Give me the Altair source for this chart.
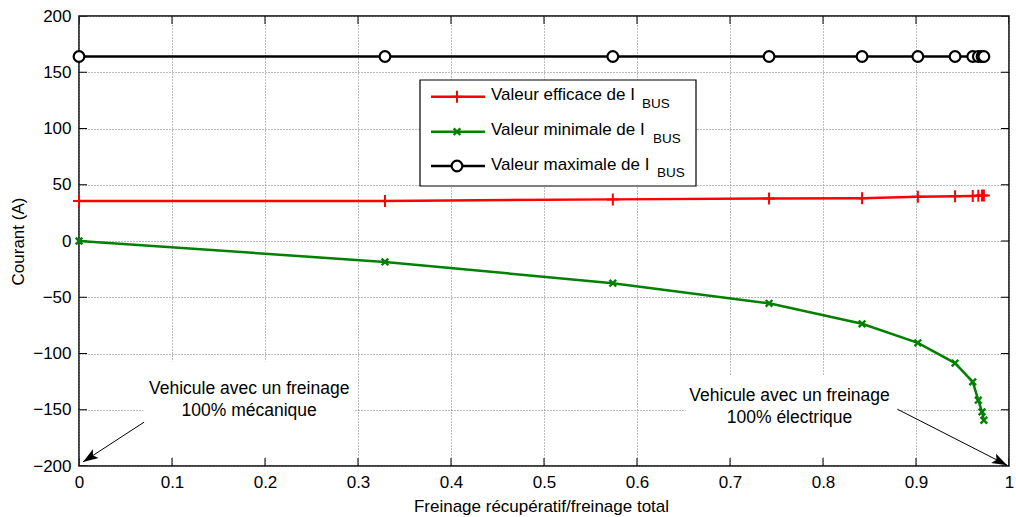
import math
import altair as alt
import pandas as pd

FONT = "Liberation Sans"

# ---------------- data ----------------
ratio = [0.0, 0.329, 0.574, 0.742, 0.842, 0.902, 0.942, 0.961, 0.967, 0.971, 0.973]
i_eff = [35.6, 35.6, 37.0, 37.8, 38.1, 39.3, 39.7, 40.1, 40.3, 40.4, 40.5]
i_min = [0.0, -18.6, -37.5, -55.4, -73.6, -90.5, -108.5, -125.2, -141.5, -151.9, -159.3]
i_max = [164.0, 164.0, 164.0, 164.0, 164.0, 164.0, 164.0, 164.0, 164.0, 164.0, 164.0]

x_ticks = [0, 0.1, 0.2, 0.3, 0.4, 0.5, 0.6, 0.7, 0.8, 0.9, 1]
y_ticks = [-200, -150, -100, -50, 0, 50, 100, 150, 200]

x_title = "Freinage récupératif/freinage total"
y_title = "Courant (A)"

legend_labels = ["Valeur efficace de I", "Valeur minimale de I", "Valeur maximale de I"]
legend_sub = "BUS"

ann_left_lines = ["Vehicule avec un freinage", "100% mécanique"]
ann_left_x = [0.183, 0.183]
ann_left_y = [-131.5, -151.0]
ann_right_lines = ["Vehicule avec un freinage", "100% électrique"]
ann_right_x = [0.764, 0.764]
ann_right_y = [-137.5, -157.5]

# white boxes behind the annotations (data coords)
box_x = [0.069, 0.653]
box_x2 = [0.296, 0.880]
box_y = [-107.0, -119.0]
box_y2 = [-192.0, -192.0]

# arrows: start -> tip (data coords)
arrow_x = [0.070, 0.880]
arrow_y = [-161.0, -149.5]
arrow_x2 = [0.0043, 0.998]
arrow_y2 = [-196.4, -199.3]

# ---------------- layout ----------------
W, H = 930, 450
PAD = {"left": 79, "top": 16, "right": 7, "bottom": 51}

xs = alt.Scale(domain=[0, 1], nice=False, zero=False)
ys = alt.Scale(domain=[-200, 200], nice=False, zero=False)

common_axis = dict(
    grid=True, ticks=False, tickSize=0, domain=False,
    labelFont=FONT, labelFontSize=17, labelColor="black",
    titleFont=FONT, titleFontSize=17, titleFontWeight="normal", titleColor="black",
    gridColor="#7a7a7a", gridDash=[1, 2], gridWidth=1, labelFlush=False,
    labelOverlap=False,
)
x_axis = alt.Axis(values=x_ticks, format="~g", title=x_title, labelPadding=8,
                  titleX=462, titleY=40, titleAlign="center", titleBaseline="middle",
                  **common_axis)
y_axis = alt.Axis(values=y_ticks, format="d", title=y_title, labelPadding=8,
                  titleX=-61, titleY=225, titleAngle=270, titleAlign="center",
                  titleBaseline="middle", **common_axis)


def X(f):
    return alt.X(f, type="quantitative", scale=xs, axis=x_axis)


def Y(f):
    return alt.Y(f, type="quantitative", scale=ys, axis=y_axis)


df = pd.DataFrame({"ratio": ratio, "eff": i_eff, "mn": i_min, "mx": i_max})
base = alt.Chart(df)

RED, GREEN, BLACK = "#ff0000", "#008000", "#000000"
PLUS = "M-1,0L1,0M0,-1L0,1"
CROSS = "M-1,-1L1,1M-1,1L1,-1"
ARROW = "M0,0L-0.55,1.6L0,1.25L0.55,1.6Z"

layers = []

# annotation white boxes
boxes = pd.DataFrame({"x": box_x, "x2": box_x2, "y": box_y, "y2": box_y2})
layers.append(alt.Chart(boxes).mark_rect(fill="white", stroke=None).encode(
    x=X("x"), x2="x2", y=Y("y"), y2="y2"))

# inner ticks (MATLAB style), on the four sides
xt = pd.DataFrame({"v": x_ticks})
yt = pd.DataFrame({"v": y_ticks})
for yv in (0, H):
    layers.append(alt.Chart(xt).mark_tick(orient="vertical", size=16, thickness=1,
                                          color="black", clip=True, opacity=1).encode(
        x=X("v"), y=alt.value(yv)))
for xv in (0, W):
    layers.append(alt.Chart(yt).mark_tick(orient="horizontal", size=16, thickness=1,
                                          color="black", clip=True, opacity=1).encode(
        y=Y("v"), x=alt.value(xv)))

# series
layers.append(base.mark_line(color=BLACK, strokeWidth=2.5).encode(x=X("ratio"), y=Y("mx")))
layers.append(base.mark_point(shape="circle", filled=True, fill="white", stroke=BLACK,
                              strokeWidth=2.2, size=115, opacity=1).encode(x=X("ratio"), y=Y("mx")))
layers.append(base.mark_line(color=RED, strokeWidth=2.5).encode(x=X("ratio"), y=Y("eff")))
layers.append(base.mark_point(shape=PLUS, filled=False, color=RED, strokeWidth=2,
                              size=144, opacity=1).encode(x=X("ratio"), y=Y("eff")))
layers.append(base.mark_line(color=GREEN, strokeWidth=2.5).encode(x=X("ratio"), y=Y("mn")))
layers.append(base.mark_point(shape=CROSS, filled=False, color=GREEN, strokeWidth=2.4,
                              size=44, opacity=1).encode(x=X("ratio"), y=Y("mn")))

# arrows
arr = pd.DataFrame({"x": arrow_x, "y": arrow_y, "x2": arrow_x2, "y2": arrow_y2})
layers.append(alt.Chart(arr).mark_rule(color="black", strokeWidth=1).encode(
    x=X("x"), x2="x2", y=Y("y"), y2="y2"))
for i in range(len(arrow_x)):
    dxp = (arrow_x2[i] - arrow_x[i]) * W
    dyp = -(arrow_y2[i] - arrow_y[i]) * H / 400.0
    ang = math.degrees(math.atan2(dxp, -dyp)) % 360
    one = pd.DataFrame({"x": [arrow_x2[i]], "y": [arrow_y2[i]]})
    layers.append(alt.Chart(one).mark_point(shape=ARROW, filled=True, color="black",
                                            size=361, opacity=1, angle=ang).encode(
        x=X("x"), y=Y("y")))

# annotation texts
for lines, xv, yv in ((ann_left_lines, ann_left_x, ann_left_y),
                      (ann_right_lines, ann_right_x, ann_right_y)):
    t = pd.DataFrame({"t": lines, "x": xv, "y": yv})
    layers.append(alt.Chart(t).mark_text(font=FONT, fontSize=17.5, color="black",
                                         align="center", baseline="middle").encode(
        x=X("x"), y=Y("y"), text="t:N"))

# legend (manual, for the subscripts)
LX, LX2, LY, LY2 = 341, 617, 64, 170
layers.append(alt.Chart(pd.DataFrame({"a": [0]})).mark_rect(
    fill="white", stroke="black", strokeWidth=1.2).encode(
    x=alt.value(LX), x2=alt.value(LX2), y=alt.value(LY), y2=alt.value(LY2)))
row_y = [80.7, 115.7, 150.0]
sub_x = [564, 575, 579]
row_col = [RED, GREEN, BLACK]
for i in range(3):
    d1 = pd.DataFrame({"a": [0]})
    layers.append(alt.Chart(d1).mark_rule(color=row_col[i], strokeWidth=2.5).encode(
        x=alt.value(352), x2=alt.value(406), y=alt.value(row_y[i])))
    if i == 0:
        mk = alt.Chart(d1).mark_point(shape=PLUS, filled=False, color=RED, strokeWidth=2,
                                      size=144, opacity=1)
    elif i == 1:
        mk = alt.Chart(d1).mark_point(shape=CROSS, filled=False, color=GREEN, strokeWidth=2.4,
                                      size=44, opacity=1)
    else:
        mk = alt.Chart(d1).mark_point(shape="circle", filled=True, fill="white", stroke=BLACK,
                                      strokeWidth=2.2, size=115, opacity=1)
    layers.append(mk.encode(x=alt.value(378), y=alt.value(row_y[i])))
    layers.append(alt.Chart(pd.DataFrame({"t": [legend_labels[i]]})).mark_text(
        font=FONT, fontSize=17, color="black", align="left", baseline="middle").encode(
        x=alt.value(412), y=alt.value(row_y[i] - 1.5), text="t:N"))
    layers.append(alt.Chart(pd.DataFrame({"t": [legend_sub]})).mark_text(
        font=FONT, fontSize=13.5, color="black", align="left", baseline="middle").encode(
        x=alt.value(sub_x[i] - 1), y=alt.value(row_y[i] + 7), text="t:N"))

chart = alt.layer(*layers).properties(
    width=W, height=H, padding=PAD, autosize=alt.AutoSizeParams(type="none"),
    background="white",
).configure_view(stroke="black", strokeWidth=1.5)

chart.save("out.html", embed_options={"renderer": "svg", "actions": False})
